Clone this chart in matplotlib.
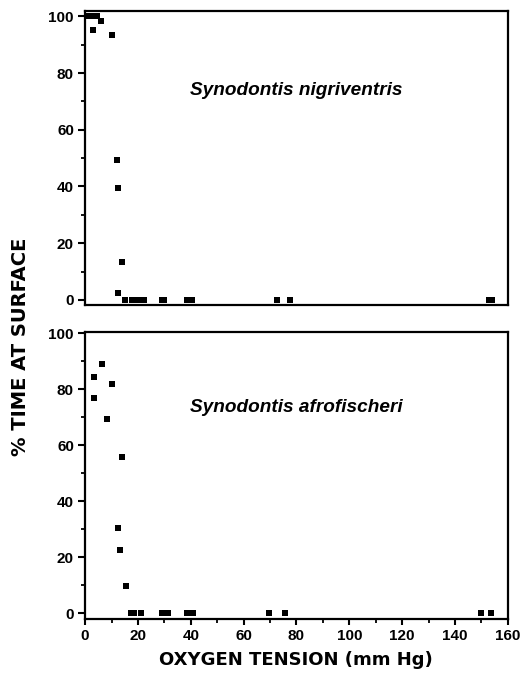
import matplotlib
matplotlib.use("Agg")
import matplotlib.pyplot as plt
from matplotlib.ticker import MultipleLocator

plt.rcParams['font.family'] = ['Liberation Sans', 'DejaVu Sans']

# Top panel: Synodontis nigriventris
top_x = [1.5, 2.5, 3.5, 4.5, 2.9, 5.9, 10.1, 12.2, 12.5, 14.0, 12.4,
         15.0, 17.8, 19.0, 20.3, 22.2, 29.0, 30.0, 38.5, 40.5, 72.5, 77.5, 153.0, 154.0]
top_y = [100, 100, 100, 100, 95.3, 98.5, 93.5, 49.5, 39.5, 13.5, 2.5,
         0, 0, 0, 0, 0, 0, 0, 0, 0, 0, 0, 0, 0]

# Bottom panel: Synodontis afrofischeri
bot_x = [3.4, 3.5, 6.4, 8.2, 10.3, 14.0, 12.6, 13.3, 15.3,
         17.3, 18.5, 21.3, 29.0, 31.5, 38.5, 41.0, 69.5, 75.5, 150.0, 153.5]
bot_y = [84.5, 77.0, 89.0, 69.5, 82.0, 56.0, 30.5, 22.5, 9.8,
         0, 0, 0, 0, 0, 0, 0, 0, 0, 0, 0]

fig = plt.figure(figsize=(5.22, 6.8), dpi=100)
ax1 = fig.add_axes([0.163, 0.5515, 0.810, 0.432])
ax2 = fig.add_axes([0.163, 0.0897, 0.810, 0.422])

for ax, xs, ys, label, ty, ylim in [
    (ax1, top_x, top_y, 'Synodontis nigriventris', 74, (-1.8, 101.8)),
    (ax2, bot_x, bot_y, 'Synodontis afrofischeri', 73.5, (-2.1, 100.5)),
]:
    ax.plot(xs, ys, linestyle='none', marker='s', markersize=4.4,
            color='black', markeredgewidth=0)
    ax.set_xlim(0, 160)
    ax.set_ylim(*ylim)
    ax.set_yticks([0, 20, 40, 60, 80, 100])
    ax.yaxis.set_minor_locator(MultipleLocator(10))
    ax.xaxis.set_major_locator(MultipleLocator(20))
    ax.xaxis.set_minor_locator(MultipleLocator(10))
    for s in ax.spines.values():
        s.set_linewidth(1.6)
    ax.tick_params(axis='y', which='major', direction='out', length=5, width=1.5,
                   labelsize=11, pad=3)
    ax.tick_params(axis='y', which='minor', direction='out', length=3, width=1.3)
    ax.tick_params(axis='x', which='major', direction='out', length=4, width=1.5,
                   labelsize=11, pad=3)
    ax.tick_params(axis='x', which='minor', direction='out', length=3, width=1.3)
    for t in ax.get_yticklabels() + ax.get_xticklabels():
        t.set_fontweight('bold')
    ax.text(80, ty, label, fontsize=13.7, fontweight='bold', fontstyle='italic',
            ha='center', va='center')

ax1.tick_params(axis='x', which='both', bottom=False, labelbottom=False)

fig.text(0.040, 0.49, '% TIME AT SURFACE', rotation=90, ha='center', va='center',
         fontsize=14, fontweight='bold', family=['DejaVu Sans'])
fig.text(0.567, 0.029, 'OXYGEN TENSION (mm Hg)', ha='center', va='center',
         fontsize=13, fontweight='bold', family=['DejaVu Sans'])

fig.savefig('out.png', dpi=100)
